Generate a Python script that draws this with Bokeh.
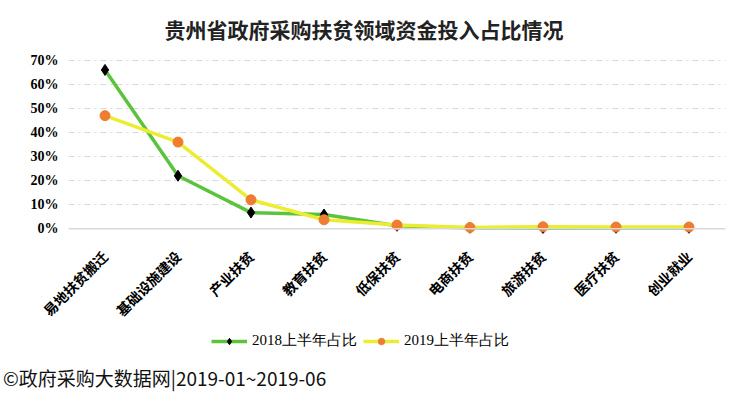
from bokeh.plotting import figure
from bokeh.models import FactorRange, Range1d, FixedTicker, NumeralTickFormatter, Span, Legend, Div
from bokeh.layouts import column
from bokeh.embed import file_html
from bokeh.resources import INLINE
import math

categories = ["易地扶贫搬迁", "基础设施建设", "产业扶贫", "教育扶贫", "低保扶贫", "电商扶贫", "旅游扶贫", "医疗扶贫", "创业就业"]
share_2018 = [0.66, 0.22, 0.067, 0.059, 0.012, 0.003, 0.002, 0.003, 0.003]
share_2019 = [0.47, 0.36, 0.12, 0.037, 0.015, 0.005, 0.008, 0.007, 0.007]
y_ticks = [0, 0.1, 0.2, 0.3, 0.4, 0.5, 0.6, 0.7]
title_text = "贵州省政府采购扶贫领域资金投入占比情况"
footer_text = "©政府采购大数据网|2019-01~2019-06"
cjk = "Noto Sans CJK SC"

p = figure(frame_width=657, frame_height=178, x_range=FactorRange(*categories), y_range=Range1d(-0.02, 0.72),
           output_backend="svg", toolbar_location=None, min_border_left=68, min_border_right=10,
           min_border_top=0, min_border_bottom=0)
p.outline_line_color = None
p.background_fill_color = "white"

p.title.text = title_text
p.title.align = "left"
p.title.offset = 96
p.title.text_font = cjk
p.title.text_font_size = "21px"
p.title.text_font_style = "bold"
p.title.text_color = "#222222"
p.title.standoff = 23

p.xgrid.grid_line_color = None
p.ygrid.ticker = FixedTicker(ticks=y_ticks)
p.ygrid.grid_line_color = "#d9d9d9"
p.ygrid.grid_line_dash = "6 4 2 4"
p.ygrid.grid_line_width = 1
p.add_layout(Span(location=0, dimension="width", line_color="#d9d9d9", line_width=1.5))

p.yaxis.ticker = FixedTicker(ticks=y_ticks)
p.yaxis.formatter = NumeralTickFormatter(format="0%")
p.yaxis.axis_line_color = None
p.yaxis.major_tick_line_color = None
p.yaxis.minor_tick_line_color = None
p.yaxis.major_label_text_font = "Liberation Serif"
p.yaxis.major_label_text_font_size = "14px"
p.yaxis.major_label_text_font_style = "bold"
p.yaxis.major_label_text_color = "black"
p.yaxis.major_label_standoff = 4

p.xaxis.axis_line_color = None
p.xaxis.major_tick_line_color = None
p.xaxis.major_label_orientation = math.pi / 4
p.xaxis.major_label_text_font = cjk
p.xaxis.major_label_text_font_size = "14px"
p.xaxis.major_label_text_font_style = "bold"
p.xaxis.major_label_text_color = "black"
p.xaxis.major_label_standoff = 14

l1 = p.line(categories, share_2018, line_color="#5cc43c", line_width=3.5)
m1 = p.scatter(categories, share_2018, marker="diamond", size=11, fill_color="black", line_color="black")
l2 = p.line(categories, share_2019, line_color="#ecec32", line_width=3.5)
m2 = p.scatter(categories, share_2019, marker="circle", size=10, fill_color="#ee7d31", line_color="#ee7d31")

# separate strip that carries the legend (renderers hidden; legend shown without inactive overlay)
leg = figure(width=735, height=24, x_range=FactorRange(*categories), y_range=Range1d(0, 1),
             output_backend="svg", toolbar_location=None, min_border=0)
leg.axis.visible = False
leg.grid.visible = False
leg.outline_line_color = None
ll1 = leg.line(categories, share_2018, line_color="#5cc43c", line_width=3.5, visible=False)
lm1 = leg.scatter(categories, share_2018, marker="diamond", size=11, fill_color="black", line_color="black", visible=False)
ll2 = leg.line(categories, share_2019, line_color="#ecec32", line_width=3.5, visible=False)
lm2 = leg.scatter(categories, share_2019, marker="circle", size=10, fill_color="#ee7d31", line_color="#ee7d31", visible=False)
legend = Legend(items=[("2018上半年占比", [ll1, lm1]), ("2019上半年占比", [ll2, lm2])],
                orientation="horizontal", location=(143, 4), border_line_color=None,
                background_fill_alpha=0, inactive_fill_alpha=0,
                label_text_font="Liberation Serif", label_text_font_size="15px",
                label_text_color="black", glyph_width=36, glyph_height=16, label_height=16,
                spacing=6, padding=1, margin=0)
leg.add_layout(legend, "center")

footer = Div(text=footer_text, width=430, height=30, margin=(10, 0, 0, 3),
             styles={"font-family": cjk, "font-size": "19px", "color": "#111111"})

open("out.html", "w").write(file_html(column(p, leg, footer, spacing=0), INLINE))
